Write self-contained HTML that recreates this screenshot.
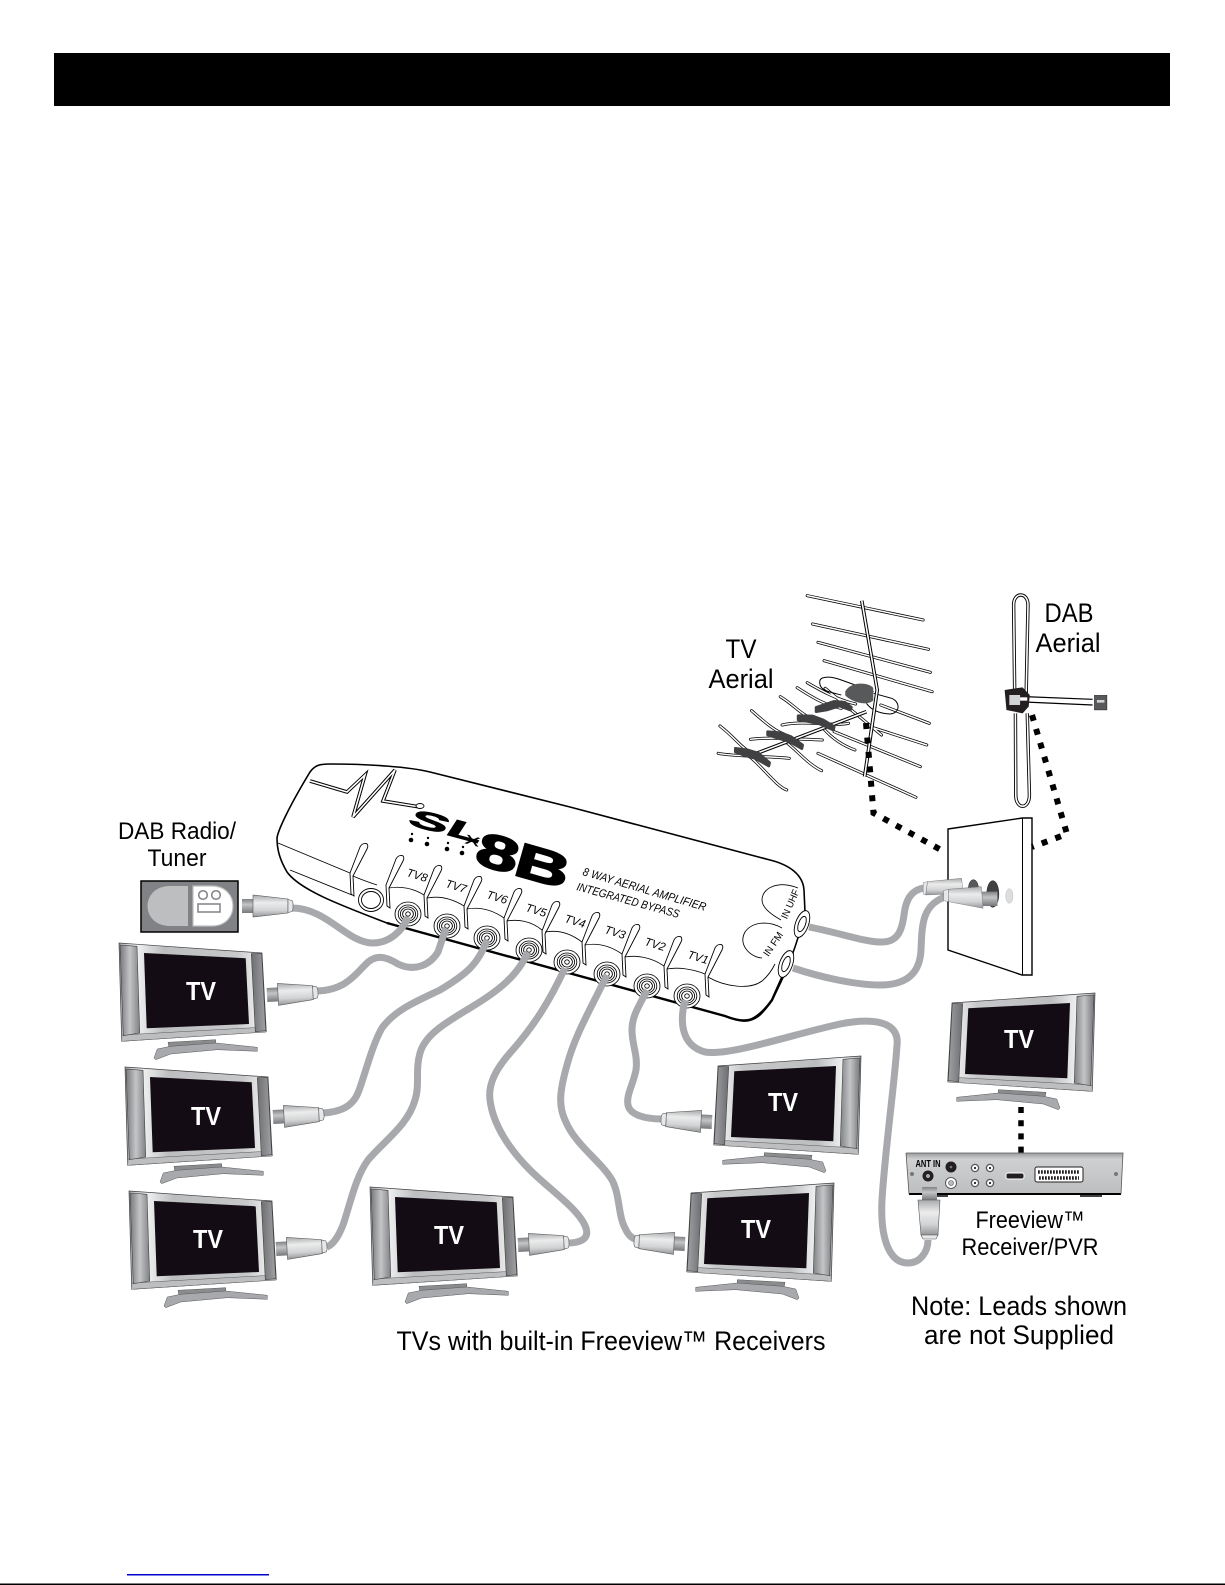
<!DOCTYPE html>
<html><head><meta charset="utf-8"><style>
html,body{margin:0;padding:0;background:#fff}
svg{display:block}
text{font-family:"Liberation Sans",sans-serif}
</style></head><body>
<svg xmlns="http://www.w3.org/2000/svg" width="1225" height="1585" viewBox="0 0 1225 1585">
<defs>
<linearGradient id="spk" x1="0" x2="1" y1="0" y2="0"><stop offset="0" stop-color="#77787b"/><stop offset=".5" stop-color="#c4c5c7"/><stop offset="1" stop-color="#808285"/></linearGradient>
<linearGradient id="spk2" x1="0" x2="1" y1="0" y2="0"><stop offset="0" stop-color="#6d6e71"/><stop offset="1" stop-color="#a0a1a4"/></linearGradient>
<linearGradient id="frm" x1="0" x2="1" y1="0" y2="0"><stop offset="0" stop-color="#a7a9ac"/><stop offset=".12" stop-color="#f1f2f2"/><stop offset=".3" stop-color="#bcbec0"/><stop offset=".8" stop-color="#c7c8ca"/><stop offset=".92" stop-color="#e8e8e8"/><stop offset="1" stop-color="#a7a9ac"/></linearGradient>
<linearGradient id="plug" x1="0" x2="0" y1="0" y2="1"><stop offset="0" stop-color="#a7a9ac"/><stop offset=".35" stop-color="#ececec"/><stop offset=".7" stop-color="#d1d3d4"/><stop offset="1" stop-color="#939598"/></linearGradient>
<linearGradient id="stub" x1="0" x2="0" y1="0" y2="1"><stop offset="0" stop-color="#808285"/><stop offset=".4" stop-color="#c4c5c7"/><stop offset="1" stop-color="#77787b"/></linearGradient>
<linearGradient id="box" x1="0" x2="0" y1="0" y2="1"><stop offset="0" stop-color="#9a9b9e"/><stop offset=".15" stop-color="#cfd0d2"/><stop offset="1" stop-color="#bcbec0"/></linearGradient>

<g id="tv">
 <polygon points="49,99.3 96.7,96.7 96.7,103 50,105" fill="#8a8c8e" stroke="#58595b" stroke-width=".5"/>
 <polygon points="35,115 38.3,106 51.7,103.3 96.7,100 138.3,104.3 138.3,108.3 98.3,106.7 51.7,111 36.7,116.7" fill="#a7a9ac" stroke="#58595b" stroke-width=".5"/>
 <polygon points="0,0 143,10 147.3,88.7 2.7,98.3" fill="url(#frm)" stroke="#414042" stroke-width=".7"/>
 <polygon points="3,92 147,84 147.3,89 2.7,98.3" fill="#bcbec0" stroke="#58595b" stroke-width=".5"/>
 <polygon points="1,2 18,3.3 20.7,90 4.3,92.7" fill="url(#spk)" stroke="#414042" stroke-width=".6"/>
 <polygon points="132.3,10.7 142.7,10.3 146.7,87.7 136.3,88.7" fill="url(#spk2)" stroke="#414042" stroke-width=".6"/>
 <polygon points="25,10 126.7,15.3 130,81 27.7,85.3" fill="#130c14"/>
</g>

<g id="plugG">
 <rect x="0" y="-7" width="12" height="14" fill="url(#stub)"/>
 <polygon points="11,-11 46,-7 46,7 11,11" fill="url(#plug)" stroke="#58595b" stroke-width=".6"/>
 <polygon points="46,-6.5 50,-5.5 51,-3 51,3 50,5.5 46,6.5" fill="#e6e7e8" stroke="#58595b" stroke-width=".6"/>
</g>

<g id="fin" fill="none" stroke="#000" stroke-width=".9">
 <path fill="#fff" d="M-17,29 L-7,3 C-5,-1 -1,-1 0,0 C1,1 1,3 0,5 L-14,32 L-13,52 L-16,50 Z"/>
</g>
<g id="port" fill="#fff" stroke="#000" stroke-width=".85">
 <ellipse rx="13" ry="12"/><ellipse rx="9.8" ry="9"/><ellipse rx="7.6" ry="7"/><ellipse rx="5.4" ry="5"/><ellipse rx="2.3" ry="2.2"/>
</g>
<path id="bars" fill="none" stroke-linecap="round" vector-effect="non-scaling-stroke" d="M605,47 L928,120 M620,132 L943,208 M635,187 L948,277 M652,242 L953,335 M810,375 L945,430 M780,440 L938,495 M680,455 L920,560 M635,520 L908,652 M655,325 L812,465 M362,438 C400,470 420,500 440,512 M445,530 C480,560 520,620 548,630 M357,520 C400,530 500,528 555,535 M450,392 C480,420 510,450 540,462 M550,490 C575,510 610,555 645,572 M447,478 C500,470 590,478 647,480 M530,350 C570,375 590,410 640,425 M650,445 C670,470 700,495 738,510 M535,435 C600,420 680,440 720,430 M577,323 C610,345 650,375 700,385 M605,308 C640,330 690,360 740,372"/>
<path id="boom" fill="none" vector-effect="non-scaling-stroke" d="M757,62 L800,330 L765,590 M440,530 L770,395"/>
<path id="dip" fill="none" vector-effect="non-scaling-stroke" d="M1183,340 L1180,75 C1180,35 1220,35 1220,75 L1215,340 M1185,400 L1186,645 C1186,690 1224,690 1224,645 L1218,400"/>
</defs>

<rect width="1225" height="1585" fill="#fff"/>
<rect x="54" y="53" width="1116" height="53" fill="#000"/>
<rect x="127" y="1574" width="142" height="1.5" fill="#0000cc"/>
<rect x="0" y="1583.5" width="1225" height="1.5" fill="#000"/>

<!-- Device -->
<path d="M310,772 C315,765 320,764 330,764 C370,764 410,767 430,772 L570,807 L770,860 C790,865 803,875 804,890 L805,912 C795,955 780,985 772,1000 C762,1015 755,1022 742,1021 C735,1020 730,1018 725,1016 L387,923 C340,905 300,890 287,872 C280,860 277,850 277,838 C278,830 290,805 310,772 Z" fill="#fff" stroke="#000" stroke-width="1.6"/>
<path d="M387,923 L725,1016 C735,1020 745,1022 752,1019 C758,1016 765,1010 772,1000 L793,953" fill="none" stroke="#000" stroke-width="2.4"/>
<path d="M278,843 L350,873 M290,870 L352,895 M353,876 C362,880 368,882 377,885" fill="none" stroke="#000" stroke-width=".9"/>
<!-- lightning -->
<path d="M310,781 L347,792 L365,775 L353,817 L395,770 L383,801 L420,807" fill="none" stroke="#000" stroke-width="3.6" stroke-linejoin="miter"/>
<path d="M310,781 L347,792 L365,775 L353,817 L395,770 L383,801 L420,807" fill="none" stroke="#fff" stroke-width="1.6" stroke-linejoin="miter"/>
<ellipse cx="420" cy="806" rx="4" ry="2.5" fill="#fff" stroke="#000" stroke-width=".9"/>
<!-- logo -->
<text transform="translate(406,824) rotate(15) skewX(-18) scale(2.35,1)" font-size="25" font-weight="700" stroke="#000" stroke-width=".7">SL</text>
<text transform="translate(464,843) rotate(15) scale(1.8,1)" font-size="17" font-weight="400">x</text>
<text transform="translate(473,863) rotate(16) scale(1.9,1.2)" font-size="40" font-weight="700" stroke="#000" stroke-width="1.4" letter-spacing="-1">8B</text>
<g fill="#000"><circle cx="411" cy="840" r="2.3"/><circle cx="427" cy="844" r="2.3"/><circle cx="447" cy="849" r="2.3"/><circle cx="462" cy="853" r="2.3"/><circle cx="412" cy="834" r="1.2"/><circle cx="428" cy="838" r="1.2"/><circle cx="448" cy="843" r="1.2"/><circle cx="463" cy="847" r="1.2"/></g>
<text transform="translate(582,875) rotate(16.3)" font-size="11.5" font-style="italic" textLength="128" lengthAdjust="spacingAndGlyphs">8 WAY AERIAL AMPLIFIER</text>
<text transform="translate(576,890) rotate(15.3)" font-size="11.5" font-style="italic" textLength="106" lengthAdjust="spacingAndGlyphs">INTEGRATED BYPASS</text>
<!-- fins -->
<g>
<use href="#fin" x="367" y="844"/><use href="#fin" x="403" y="856"/><use href="#fin" x="441" y="866"/><use href="#fin" x="481" y="877"/><use href="#fin" x="521" y="889"/><use href="#fin" x="559" y="902"/><use href="#fin" x="599" y="913"/><use href="#fin" x="639" y="925"/><use href="#fin" x="681" y="937"/><use href="#fin" x="722" y="945"/>
</g>
<path fill="none" stroke="#000" stroke-width=".85" d="M389,888 C400,886 413,888 424,895 M427,898 C438,896 451,898 464,906 M467,909 C478,907 491,909 504,918 M507,921 C518,919 531,921 542,930 M545,932 C556,930 569,932 582,942 M585,945 C596,943 609,945 622,954 M625,957 C636,955 651,957 664,966 M667,969 C678,967 693,969 705,974 M708,977 C725,987 750,990 762,981 C768,976 772,970 775,964 M782,928 C768,920 752,922 745,932 C738,945 750,957 762,958 M798,888 C778,880 762,888 762,900 C762,908 772,915 781,920"/>
<text transform="translate(790,904) rotate(-66)" font-size="10" text-anchor="middle" y="3.5" textLength="31" lengthAdjust="spacingAndGlyphs">IN UHF</text>
<text transform="translate(773,944) rotate(-56)" font-size="10" text-anchor="middle" y="3.5" textLength="27" lengthAdjust="spacingAndGlyphs">IN FM</text>
<g font-size="11.5" font-style="italic" font-weight="400" text-anchor="middle">
<text transform="translate(416,879) rotate(17)">TV8</text>
<text transform="translate(455,890) rotate(17)">TV7</text>
<text transform="translate(496,901) rotate(17)">TV6</text>
<text transform="translate(535,914) rotate(17)">TV5</text>
<text transform="translate(574,925) rotate(17)">TV4</text>
<text transform="translate(614,936) rotate(17)">TV3</text>
<text transform="translate(654,948) rotate(17)">TV2</text>
<text transform="translate(697,961) rotate(17)">TV1</text>
</g>
<g fill="#fff" stroke="#000" stroke-width=".9"><ellipse cx="371" cy="900" rx="12.5" ry="11.5"/><ellipse cx="371" cy="900" rx="9.5" ry="8.5"/></g>
<use href="#port" x="408" y="914"/><use href="#port" x="447" y="926"/><use href="#port" x="487" y="938"/><use href="#port" x="529" y="950"/><use href="#port" x="567" y="962"/><use href="#port" x="607" y="974"/><use href="#port" x="647" y="986"/><use href="#port" x="687" y="996"/>
<g fill="#fff" stroke="#000" stroke-width=".9">
<ellipse cx="802" cy="924" rx="6.5" ry="14" transform="rotate(20 802 924)"/><ellipse cx="802" cy="924" rx="3.5" ry="8" transform="rotate(20 802 924)"/>
<ellipse cx="786" cy="964" rx="6.5" ry="14" transform="rotate(20 786 964)"/><ellipse cx="786" cy="964" rx="3.5" ry="8" transform="rotate(20 786 964)"/>
</g>

<!-- Cables -->
<g fill="none" stroke="#a7a9ac" stroke-width="7" stroke-linecap="butt">
<path d="M292,908 C327,908 347,943 373,943 C390,943 403,930 408,917"/>
<path d="M317,991 C345,990 355,975 365,965 C375,954 385,956 398,964 C415,972 430,965 438,952 L446,928"/>
<path d="M487,940 C478,965 465,975 440,990 C415,1002 395,1010 382,1028 C372,1045 365,1075 358,1093 C352,1107 340,1112 323,1113"/>
<path d="M528,952 C518,975 500,990 470,1008 C445,1023 425,1035 420,1053 C415,1070 420,1085 415,1100 C408,1125 385,1140 368,1160 C355,1178 350,1205 343,1225 C338,1238 332,1245 327,1247"/>
<path d="M565,968 C550,1000 535,1025 510,1053 C495,1070 488,1085 490,1100 C493,1125 510,1150 530,1170 C550,1190 580,1210 586,1228 C590,1240 578,1243 568,1243"/>
<path d="M607,975 C590,1010 575,1035 567,1065 C560,1090 558,1105 565,1120 C575,1145 600,1160 612,1180 C620,1195 618,1215 625,1228 C628,1235 632,1238 635,1239"/>
<path d="M647,990 C640,1005 632,1015 632,1030 C632,1045 638,1055 636,1070 C633,1085 626,1095 628,1105 C630,1115 645,1119 662,1119"/>
<path d="M685,1000 C680,1020 680,1045 705,1052 C730,1056 790,1035 840,1024 C870,1018 900,1020 897,1045 C895,1080 885,1150 882,1200 C880,1240 890,1263 908,1263 C920,1263 928,1252 928,1240"/>
<path d="M809,927 C840,933 865,942 880,942 C898,943 902,930 904,915 C906,898 912,890 924,888"/>
<path d="M793,968 C820,977 855,985 880,985 C910,985 920,970 921,950 C922,925 922,905 945,897"/>
</g>

<!-- TVs -->
<use href="#tv" x="119" y="943"/>
<use href="#tv" x="125" y="1067"/>
<use href="#tv" x="129" y="1191"/>
<use href="#tv" x="370" y="1187"/>
<g transform="translate(861,1056) scale(-1,1)"><use href="#tv"/></g>
<g transform="translate(834,1183) scale(-1,1)"><use href="#tv"/></g>
<g transform="translate(1095,993) scale(-1,1)"><use href="#tv"/></g>
<g fill="#fff" font-size="26" font-weight="700" text-anchor="middle">
<text x="201" y="1000" textLength="30" lengthAdjust="spacingAndGlyphs">TV</text>
<text x="206" y="1125" textLength="30" lengthAdjust="spacingAndGlyphs">TV</text>
<text x="208" y="1248" textLength="30" lengthAdjust="spacingAndGlyphs">TV</text>
<text x="449" y="1244" textLength="30" lengthAdjust="spacingAndGlyphs">TV</text>
<text x="783" y="1111" textLength="30" lengthAdjust="spacingAndGlyphs">TV</text>
<text x="756" y="1238" textLength="30" lengthAdjust="spacingAndGlyphs">TV</text>
<text x="1019" y="1048" textLength="30" lengthAdjust="spacingAndGlyphs">TV</text>
</g>

<!-- Plugs -->
<use href="#plugG" x="242" y="906"/>
<g transform="translate(267,995) rotate(-3)"><use href="#plugG"/></g>
<g transform="translate(273,1117) rotate(-3)"><use href="#plugG"/></g>
<g transform="translate(276,1249) rotate(-3)"><use href="#plugG"/></g>
<g transform="translate(518,1245) rotate(-3)"><use href="#plugG"/></g>
<g transform="translate(712,1122) scale(-1,1) rotate(-3)"><use href="#plugG"/></g>
<g transform="translate(685,1244) scale(-1,1) rotate(-3)"><use href="#plugG"/></g>

<!-- Radio -->
<rect x="141" y="881" width="97" height="51" fill="#808285" stroke="#000" stroke-width="1.5"/>
<path d="M188,886 L170,886 C140,886 140,926 170,926 L188,926 Z" fill="#bcbec0"/>
<path d="M193,886 L212,886 C240,886 240,926 212,926 L193,926 Z" fill="#fff" stroke="#bcbec0" stroke-width="1.2"/>
<g fill="none" stroke="#808285" stroke-width="1.5"><circle cx="203" cy="895" r="4.3"/><circle cx="216" cy="895" r="4.3"/><rect x="198" y="904" width="22" height="8"/></g>

<!-- Freeview box -->
<polygon points="906,1153 1123,1153 1121,1194 909,1194" fill="url(#box)"/>
<rect x="923" y="1194" width="25" height="3" fill="#414042"/><rect x="1080" y="1194" width="22" height="3" fill="#414042"/>
<path d="M909,1194 L1121,1194" stroke="#000" stroke-width="2"/>
<path d="M906,1153 L1123,1153 L1121,1194 M906,1153 L909,1194" fill="none" stroke="#58595b" stroke-width=".8"/>
<text x="928" y="1167" font-size="10" font-weight="700" text-anchor="middle" textLength="25" lengthAdjust="spacingAndGlyphs">ANT IN</text>
<circle cx="928" cy="1176" r="5.5" fill="#231f20"/><circle cx="928" cy="1176" r="2" fill="#a7a9ac"/>
<circle cx="951" cy="1167" r="5.5" fill="#231f20"/><circle cx="951" cy="1167" r="1.3" fill="#777"/>
<circle cx="951" cy="1183" r="5.5" fill="#fff" stroke="#58595b"/><circle cx="951" cy="1183" r="2.5" fill="#bbb" stroke="#58595b" stroke-width=".6"/>
<g fill="#fff" stroke="#58595b" stroke-width="1.3"><circle cx="975" cy="1168" r="3.6"/><circle cx="990" cy="1168" r="3.6"/><circle cx="975" cy="1183" r="3.6"/><circle cx="990" cy="1183" r="3.6"/></g>
<g fill="#231f20"><circle cx="975" cy="1168" r="1.1"/><circle cx="990" cy="1168" r="1.1"/><circle cx="975" cy="1183" r="1.1"/><circle cx="990" cy="1183" r="1.1"/></g>
<rect x="1006" y="1173" width="18" height="6" rx="2" fill="#231f20" stroke="#fff"/>
<rect x="1035" y="1167" width="48" height="15" rx="2" fill="#fff" stroke="#231f20"/>
<path d="M1038,1172 H1080 M1039,1178 H1079" stroke="#231f20" stroke-width="3.4" stroke-dasharray="1.8 1.2"/>
<circle cx="912" cy="1174" r="2" fill="#777"/><circle cx="1116" cy="1174" r="2" fill="#777"/>
<rect x="922" y="1187" width="15" height="13" fill="url(#stub)"/>
<polygon points="918,1200 940,1200 938,1235 921,1235" fill="url(#plug)" stroke="#58595b" stroke-width=".6"/>
<polygon points="921,1235 938,1235 936,1239 923,1239" fill="#e6e7e8" stroke="#58595b" stroke-width=".6"/>
<path d="M1021,1107 V1153" stroke="#000" stroke-width="5.5" stroke-dasharray="6 7.2"/>

<!-- Wall plate -->
<polygon points="948,829 1022.5,818 1032,818 1032,975 1022,975 948,950" fill="#fff" stroke="#000" stroke-width="1.4"/>
<path d="M1022.5,818 V975" stroke="#000" stroke-width="1"/>

<!-- Aerials (zoom-space group) -->
<g transform="translate(590,580) scale(.359,.3333)">
 <use href="#bars" stroke="#000" stroke-width="3"/>
 <use href="#bars" stroke="#fff" stroke-width="1.5"/>
 <path d="M640,305 C640,288 670,288 700,300 L790,335 M640,305 C638,330 660,335 700,345 M790,340 L840,355 C865,365 865,400 835,402 C800,400 780,385 770,370" fill="none" stroke="#000" stroke-width="1" vector-effect="non-scaling-stroke"/>
 <use href="#boom" stroke="#000" stroke-width="3.6"/>
 <use href="#boom" stroke="#fff" stroke-width="1.6"/>
 <g fill="#414042" stroke="#414042" stroke-width="8" stroke-linejoin="round">
  <polygon points="405,505 440,510 470,520 500,548 498,558 460,535 435,528 405,516"/>
  <polygon points="495,455 530,458 560,470 592,495 590,506 555,485 525,475 495,465"/>
  <polygon points="580,407 620,408 650,420 680,440 678,450 640,432 610,425 580,420"/>
  <polygon points="630,382 680,364 710,367 728,382 725,390 695,378 660,390 630,395"/>
  <path d="M715,335 C730,310 770,310 785,325 L785,360 C765,375 730,360 715,345 Z" fill="#58595b" stroke="#58595b"/>
 </g>
 <use href="#dip" stroke="#000" stroke-width="3.4"/>
 <use href="#dip" stroke="#fff" stroke-width="1.6"/>
 <path d="M1210,350 L1400,358 M1210,366 L1400,375" stroke="#000" stroke-width="1.2" fill="none" vector-effect="non-scaling-stroke"/>
 <rect x="1405" y="346" width="35" height="44" fill="#58595b" stroke="#000"/>
 <rect x="1412" y="360" width="21" height="8" fill="#d1d3d4"/>
 <path d="M1155,330 L1205,322 L1225,345 L1222,380 L1205,400 L1160,390 Z" fill="#231f20"/>
 <rect x="1168" y="345" width="30" height="30" fill="#d1d3d4"/>
 <rect x="1198" y="352" width="20" height="10" fill="#fff"/>
 <!-- wall connectors -->
 <ellipse cx="1068" cy="925" rx="14" ry="26" fill="#58595b" stroke="#000"/>
 <polygon points="940,905 1035,895 1040,940 935,945" fill="url(#plug)" stroke="#58595b"/>
 <polygon points="928,908 940,905 935,945 928,942" fill="#e6e7e8" stroke="#58595b"/>
 <ellipse cx="1122" cy="942" rx="17" ry="40" fill="#414042" stroke="#000"/>
 <polygon points="1090,935 1135,935 1135,978 1090,978" fill="url(#stub)"/>
 <polygon points="998,928 1090,920 1095,985 998,965" fill="url(#plug)" stroke="#58595b"/>
 <polygon points="985,932 998,928 998,965 985,962" fill="#e6e7e8" stroke="#58595b"/>
 <ellipse cx="1168" cy="948" rx="10" ry="22" fill="#dcddde" stroke="#a7a9ac"/>
</g>

<!-- Dotted lines -->
<path d="M866,723 L870,770 L873.5,813 L943,851" fill="none" stroke="#000" stroke-width="6" stroke-dasharray="6 8.5"/>
<path d="M1032,715 L1067,834 L1032,847" fill="none" stroke="#000" stroke-width="6" stroke-dasharray="6 8.5"/>

<!-- Labels -->
<g fill="#000" font-size="24" text-anchor="middle">
<text x="177" y="839" textLength="118" lengthAdjust="spacingAndGlyphs">DAB Radio/</text>
<text x="177" y="866" textLength="59" lengthAdjust="spacingAndGlyphs">Tuner</text>
<text x="741" y="658" font-size="27" textLength="31" lengthAdjust="spacingAndGlyphs">TV</text>
<text x="741" y="688" font-size="27" textLength="65" lengthAdjust="spacingAndGlyphs">Aerial</text>
<text x="1069" y="622" font-size="27" textLength="49" lengthAdjust="spacingAndGlyphs">DAB</text>
<text x="1068" y="652" font-size="27" textLength="65" lengthAdjust="spacingAndGlyphs">Aerial</text>
<text x="1030" y="1228" textLength="109" lengthAdjust="spacingAndGlyphs">Freeview™</text>
<text x="1030" y="1255" textLength="137" lengthAdjust="spacingAndGlyphs">Receiver/PVR</text>
<text x="1019" y="1315" font-size="27" textLength="216" lengthAdjust="spacingAndGlyphs">Note: Leads shown</text>
<text x="1019" y="1344" font-size="27" textLength="190" lengthAdjust="spacingAndGlyphs">are not Supplied</text>
<text x="611" y="1350" font-size="27" textLength="429" lengthAdjust="spacingAndGlyphs">TVs with built-in Freeview™ Receivers</text>
</g>
</svg>
</body></html>
